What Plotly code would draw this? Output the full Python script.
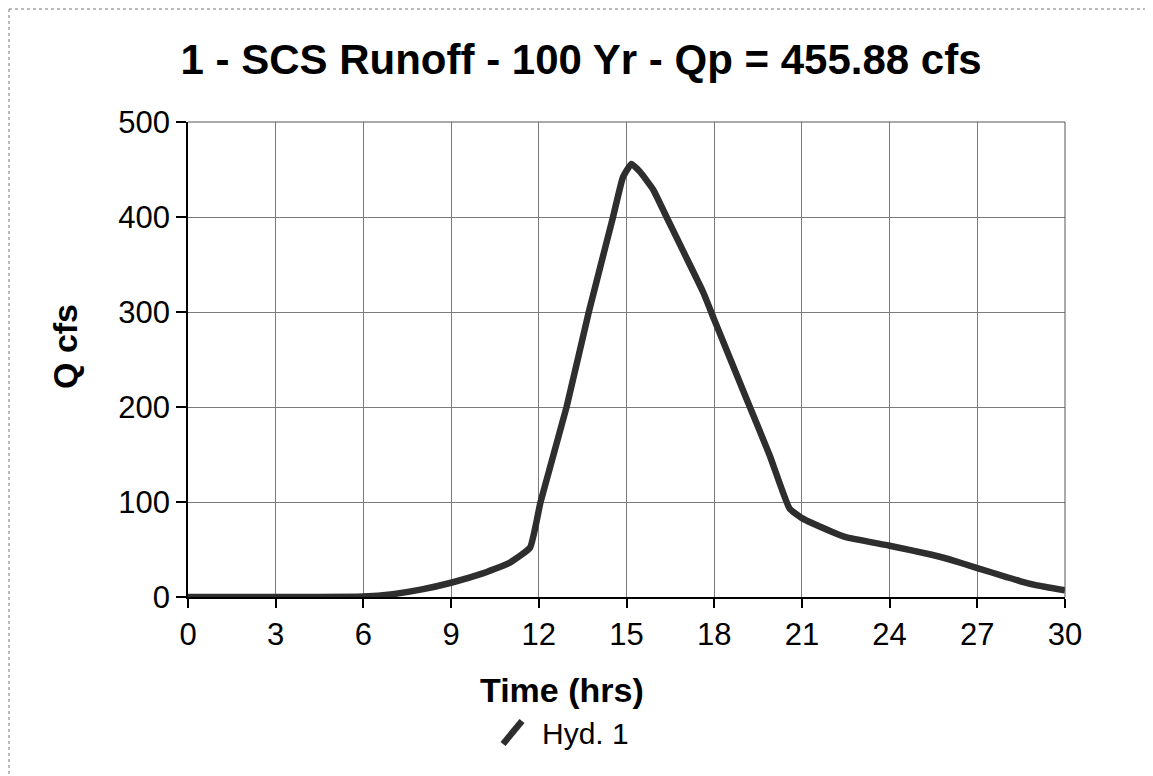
import plotly.graph_objects as go

time_hrs = [0, 2, 4, 6, 7, 8, 9, 10, 11, 11.7, 12.06, 12.95, 13.71, 14.54, 14.88,
            15.17, 15.45, 15.91, 16.37, 16.94, 17.62, 18, 19.1, 19.9, 20.58, 21, 22, 22.5,
            24, 25.44, 26, 27, 28, 28.48, 29, 30]
q_cfs = [0, 0, 0, 0.5, 3, 8, 15, 24, 36, 52, 100, 200, 300, 400, 442,
         455.88, 448, 429, 400, 364, 321, 292, 209, 149, 93, 83, 69, 63,
         54, 44.5, 40, 30.5, 21, 16.5, 12.5, 7]

x_ticks = [0, 3, 6, 9, 12, 15, 18, 21, 24, 27, 30]
y_ticks = [0, 100, 200, 300, 400, 500]

title_text = "1 - SCS Runoff - 100 Yr - Qp = 455.88 cfs"
x_title = "Time (hrs)"
y_title = "Q cfs"
legend_name = "Hyd. 1"

OFF = 8  # default page body margin in the browser
W, H = 1153 - OFF, 776 - OFF
L, R, T, B = 188 - OFF, 1065 - OFF, 122 - OFF, 597 - OFF  # plot area, figure pixels


def px(xp):
    xp -= OFF
    return (xp - L) / (R - L)


def py(yp):
    yp -= OFF
    return (B - yp) / (B - T)


FONT = "Liberation Sans, Arial, sans-serif"

fig = go.Figure()
fig.add_trace(go.Scatter(
    x=time_hrs, y=q_cfs, mode="lines", name=legend_name,
    line=dict(color="#2e2e2e", width=6.5, shape="spline", smoothing=0.4),
    showlegend=False,
))

fig.update_layout(
    width=W, height=H, autosize=False,
    paper_bgcolor="white", plot_bgcolor="white",
    margin=dict(l=L, r=W - R, t=T, b=H - B, pad=0),
    font=dict(family=FONT, color="black", size=31),
    title=dict(text="<b>" + title_text + "</b>", x=(581 - OFF) / W, xref="container",
               xanchor="center", y=1 - (59 - OFF) / H, yref="container", yanchor="middle",
               font=dict(size=42, family=FONT, color="black")),
    xaxis=dict(range=[0, 30], tickvals=x_ticks, ticktext=[str(v) for v in x_ticks],
               showgrid=True, gridcolor="#7a7a7a", gridwidth=1,
               showline=True, linecolor="black", linewidth=1.5, mirror=False,
               ticks="outside", ticklen=9, tickcolor="black", tickwidth=1.5,
               zeroline=False, tickfont=dict(size=31, family=FONT)),
    yaxis=dict(range=[0, 500], tickvals=y_ticks, ticktext=[str(v) for v in y_ticks],
               showgrid=True, gridcolor="#7a7a7a", gridwidth=1,
               showline=True, linecolor="black", linewidth=1.5,
               ticks="outside", ticklen=10, tickcolor="black", tickwidth=1.5,
               zeroline=False, tickfont=dict(size=31, family=FONT)),
)

shapes = [
    # plot top/right edges
    dict(type="line", xref="paper", yref="paper", x0=0, x1=1, y0=1, y1=1,
         line=dict(color="#555", width=1)),
    dict(type="line", xref="paper", yref="paper", x0=1, x1=1, y0=0, y1=1,
         line=dict(color="#555", width=1)),
    # scanned page frame (left and top)
    dict(type="line", xref="paper", yref="paper", x0=px(9), x1=px(9), y0=py(9), y1=py(776),
         line=dict(color="#777", width=1, dash="dot")),
    dict(type="line", xref="paper", yref="paper", x0=px(9), x1=px(1153), y0=py(9), y1=py(9),
         line=dict(color="#777", width=1, dash="dot")),
    # legend glyph
    dict(type="line", xref="paper", yref="paper", x0=px(503), x1=px(522), y0=py(744), y1=py(721),
         line=dict(color="#2e2e2e", width=6.5)),
]

annotations = [
    dict(text="<b>" + x_title + "</b>", xref="paper", yref="paper",
         x=px(562), y=py(690), xanchor="center", yanchor="middle", showarrow=False,
         font=dict(size=34, family=FONT, color="black")),
    dict(text="<b>" + y_title + "</b>", xref="paper", yref="paper",
         x=px(65), y=py(347), xanchor="center", yanchor="middle", showarrow=False,
         textangle=-90, font=dict(size=34, family=FONT, color="black")),
    dict(text=legend_name, xref="paper", yref="paper",
         x=px(540), y=py(733), xanchor="left", yanchor="middle", showarrow=False,
         font=dict(size=30, family=FONT, color="black")),
]

fig.update_layout(shapes=shapes, annotations=annotations)

fig.write_html("out.html")
